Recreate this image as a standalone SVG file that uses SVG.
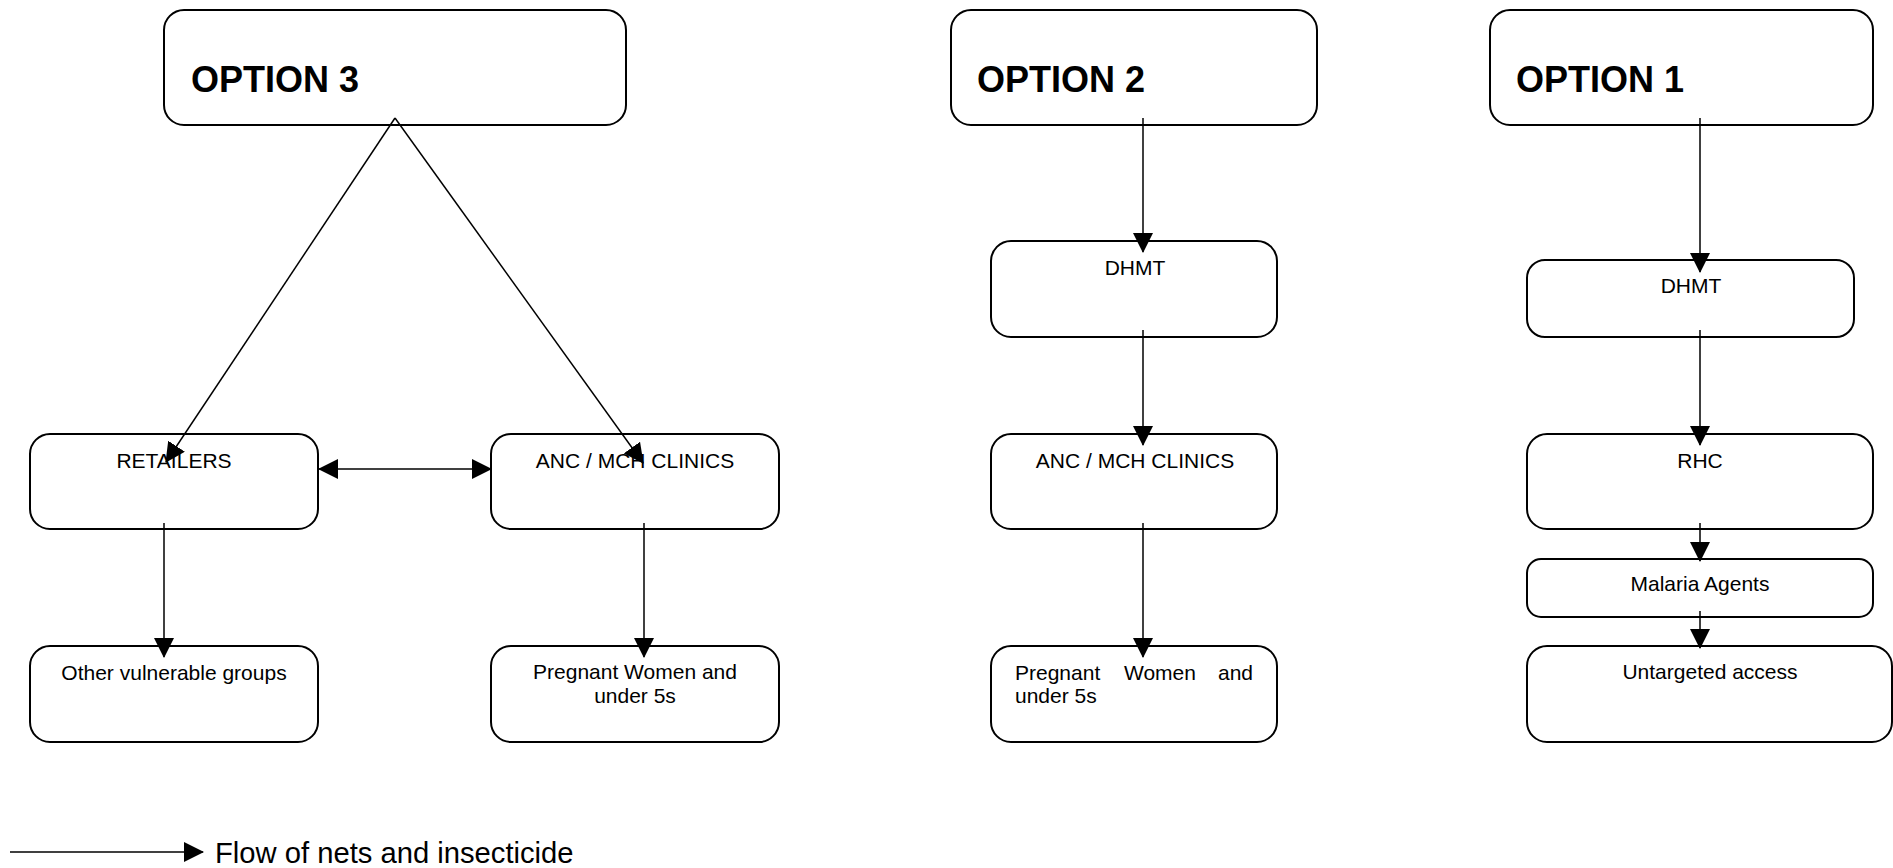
<svg xmlns="http://www.w3.org/2000/svg" width="1893" height="868" viewBox="0 0 1893 868">
<style>
.box{fill:#fff;stroke:#000;stroke-width:2}
.t{font-family:"Liberation Sans",Arial,sans-serif;font-size:21px;fill:#000}
.c{text-anchor:middle}
.h{font-family:"Liberation Sans",Arial,sans-serif;font-size:36px;font-weight:bold;fill:#000}
.ln{stroke:#000;stroke-width:1.5;fill:none}
</style>
<defs>
<marker id="ah" markerUnits="userSpaceOnUse" markerWidth="20" markerHeight="20" viewBox="0 0 20 20" refX="19" refY="10" orient="auto">
<path d="M0,0 L20,10 L0,20 Z" fill="#000"/>
</marker>
<marker id="as" markerUnits="userSpaceOnUse" markerWidth="20" markerHeight="20" viewBox="0 0 20 20" refX="1" refY="10" orient="auto">
<path d="M20,0 L0,10 L20,20 Z" fill="#000"/>
</marker>
</defs>
<rect width="1893" height="868" fill="#fff"/>

<g id="opt3">
<rect class="box" x="164" y="10" width="462" height="115" rx="20"/>
<text class="h" x="191" y="92">OPTION 3</text>
</g>
<g id="retailers">
<rect class="box" x="30" y="434" width="288" height="95" rx="20"/>
<text class="t c" x="174" y="468">RETAILERS</text>
</g>
<g id="anc3">
<rect class="box" x="491" y="434" width="288" height="95" rx="20"/>
<text class="t c" x="635" y="468">ANC / MCH CLINICS</text>
</g>
<g id="other">
<rect class="box" x="30" y="646" width="288" height="96" rx="20"/>
<text class="t c" x="174" y="680">Other vulnerable groups</text>
</g>
<g id="preg3">
<rect class="box" x="491" y="646" width="288" height="96" rx="20"/>
<text class="t c" x="635" y="679">Pregnant Women and</text>
<text class="t c" x="635" y="703">under 5s</text>
</g>

<g id="opt2">
<rect class="box" x="951" y="10" width="366" height="115" rx="20"/>
<text class="h" x="977" y="92">OPTION 2</text>
</g>
<g id="dhmt2">
<rect class="box" x="991" y="241" width="286" height="96" rx="20"/>
<text class="t c" x="1135" y="275">DHMT</text>
</g>
<g id="anc2">
<rect class="box" x="991" y="434" width="286" height="95" rx="20"/>
<text class="t c" x="1135" y="468">ANC / MCH CLINICS</text>
</g>
<g id="preg2">
<rect class="box" x="991" y="646" width="286" height="96" rx="20"/>
<text class="t" y="680"><tspan x="1015">Pregnant</tspan><tspan x="1124">Women</tspan><tspan x="1253" text-anchor="end">and</tspan></text>
<text class="t" x="1015" y="703">under 5s</text>
</g>

<g id="opt1">
<rect class="box" x="1490" y="10" width="383" height="115" rx="20"/>
<text class="h" x="1516" y="92">OPTION 1</text>
</g>
<g id="dhmt1">
<rect class="box" x="1527" y="260" width="327" height="77" rx="18"/>
<text class="t c" x="1691" y="293">DHMT</text>
</g>
<g id="rhc">
<rect class="box" x="1527" y="434" width="346" height="95" rx="20"/>
<text class="t c" x="1700" y="468">RHC</text>
</g>
<g id="agents">
<rect class="box" x="1527" y="559" width="346" height="58" rx="14"/>
<text class="t c" x="1700" y="591">Malaria Agents</text>
</g>
<g id="untargeted">
<rect class="box" x="1527" y="646" width="365" height="96" rx="20"/>
<text class="t c" x="1710" y="679">Untargeted access</text>
</g>

<g id="connectors">
<line class="ln" x1="395" y1="118" x2="166" y2="462" marker-end="url(#ah)"/>
<line class="ln" x1="395" y1="118" x2="643" y2="463" marker-end="url(#ah)"/>
<line class="ln" x1="319" y1="469" x2="491" y2="469" marker-start="url(#as)" marker-end="url(#ah)"/>
<line class="ln" x1="164" y1="523" x2="164" y2="657" marker-end="url(#ah)"/>
<line class="ln" x1="644" y1="523" x2="644" y2="657" marker-end="url(#ah)"/>
<line class="ln" x1="1143" y1="118" x2="1143" y2="252" marker-end="url(#ah)"/>
<line class="ln" x1="1143" y1="330" x2="1143" y2="445" marker-end="url(#ah)"/>
<line class="ln" x1="1143" y1="523" x2="1143" y2="657" marker-end="url(#ah)"/>
<line class="ln" x1="1700" y1="118" x2="1700" y2="272" marker-end="url(#ah)"/>
<line class="ln" x1="1700" y1="330" x2="1700" y2="445" marker-end="url(#ah)"/>
<line class="ln" x1="1700" y1="523" x2="1700" y2="561" marker-end="url(#ah)"/>
<line class="ln" x1="1700" y1="611" x2="1700" y2="648" marker-end="url(#ah)"/>
</g>

<g id="legend">
<line class="ln" x1="10" y1="852" x2="203" y2="852" marker-end="url(#ah)"/>
<text class="t" x="215" y="863" style="font-size:29.2px">Flow of nets and insecticide</text>
</g>
</svg>
